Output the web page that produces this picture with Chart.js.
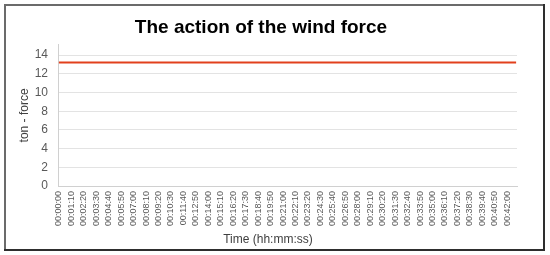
<!DOCTYPE html>
<html>
<head>
<meta charset="utf-8">
<script src="https://cdn.jsdelivr.net/npm/chart.js@4/dist/chart.umd.min.js"></script>
<style>
  body { margin: 0; background: #fff; }
  canvas { display: block; }
</style>
</head>
<body>
<canvas id="graf" width="550" height="255"></canvas>
<script>
// tick labels shown on the time axis (every 70 s)
var timeLabels = ["00:00:00", "00:01:10", "00:02:20", "00:03:30", "00:04:40", "00:05:50",
  "00:07:00", "00:08:10", "00:09:20", "00:10:30", "00:11:40", "00:12:50", "00:14:00",
  "00:15:10", "00:16:20", "00:17:30", "00:18:40", "00:19:50", "00:21:00", "00:22:10",
  "00:23:20", "00:24:30", "00:25:40", "00:26:50", "00:28:00", "00:29:10", "00:30:20",
  "00:31:30", "00:32:40", "00:33:50", "00:35:00", "00:36:10", "00:37:20", "00:38:30",
  "00:39:40", "00:40:50", "00:42:00"];
// times of the plotted readings
var sampleTimes = timeLabels.concat(["00:42:50"]);
// wind force (ton - force), flat line
var forceValues = [13.2, 13.2, 13.2, 13.2, 13.2, 13.2, 13.2, 13.2, 13.2, 13.2,
  13.2, 13.2, 13.2, 13.2, 13.2, 13.2, 13.2, 13.2, 13.2, 13.2,
  13.2, 13.2, 13.2, 13.2, 13.2, 13.2, 13.2, 13.2, 13.2, 13.2,
  13.2, 13.2, 13.2, 13.2, 13.2, 13.2, 13.2, 13.2];

function toSec(t) {
  var p = t.split(":");
  return (+p[0]) * 3600 + (+p[1]) * 60 + (+p[2]);
}

var FONT = "'Liberation Sans', Arial, sans-serif";

// white background, frame and the x axis title
var framePlugin = {
  id: "frame",
  beforeDraw: function (chart) {
    var ctx = chart.ctx;
    ctx.save();
    ctx.fillStyle = "#fff";
    ctx.fillRect(0, 0, chart.width, chart.height);
    ctx.restore();
  },
  afterDraw: function (chart) {
    var ctx = chart.ctx;
    ctx.save();
    ctx.fillStyle = "#6b6b6b";
    ctx.fillRect(4, 4, 541, 2);   // top
    ctx.fillRect(4, 4, 2, 246);   // left
    ctx.fillStyle = "#2e2e2e";
    ctx.fillRect(543, 4, 2, 247); // right
    ctx.fillRect(4, 249, 541, 2); // bottom
    ctx.fillStyle = "#404040";
    ctx.font = "12px " + FONT;
    ctx.textAlign = "center";
    ctx.textBaseline = "middle";
    ctx.fillText("Time (hh:mm:ss)", 268, 240);
    ctx.restore();
  }
};

var graf = document.getElementById("graf");
new Chart(graf, {
  type: "line",
  data: {
    datasets: [{
      data: sampleTimes.map(function (t, i) { return { x: toSec(t), y: forceValues[i] }; }),
      borderColor: "#e2401c",
      borderWidth: 2,
      pointRadius: 0,
      fill: false,
      tension: 0
    }]
  },
  options: {
    responsive: false,
    animation: false,
    devicePixelRatio: 1,
    layout: { padding: { left: 5, right: 33, top: 0, bottom: 5 } },
    plugins: {
      legend: { display: false },
      tooltip: { enabled: false },
      title: {
        display: true,
        text: "The action of the wind force",
        color: "#000",
        font: { family: FONT, size: 19, weight: "bold" },
        padding: { top: 16, bottom: 6 }
      }
    },
    scales: {
      x: {
        type: "linear",
        min: -5,
        max: 2575,
        afterBuildTicks: function (scale) {
          scale.ticks = timeLabels.map(function (t) { return { value: toSec(t) }; });
        },
        afterFit: function (scale) { scale.height = 64; },
        grid: { color: "rgba(0,0,0,0)", drawTicks: false },
        border: { color: "#d0d0d0", width: 1 },
        ticks: {
          autoSkip: false,
          minRotation: 90,
          maxRotation: 90,
          padding: 5,
          color: "#595959",
          font: { family: FONT, size: 9 },
          callback: function (v, i) { return timeLabels[i]; }
        }
      },
      y: {
        min: 0,
        max: 15.1,
        afterFit: function (scale) { scale.width = 53; },
        grid: { color: "#e3e3e3", drawTicks: false },
        border: { color: "#d0d0d0", width: 1 },
        ticks: {
          stepSize: 2,
          includeBounds: false,
          padding: 10,
          color: "#595959",
          font: { family: FONT, size: 12 }
        },
        title: {
          display: true,
          text: "ton - force",
          color: "#404040",
          font: { family: FONT, size: 12 },
          padding: { top: 12, bottom: 0 }
        }
      }
    }
  },
  plugins: [framePlugin]
});
</script>
</body>
</html>
